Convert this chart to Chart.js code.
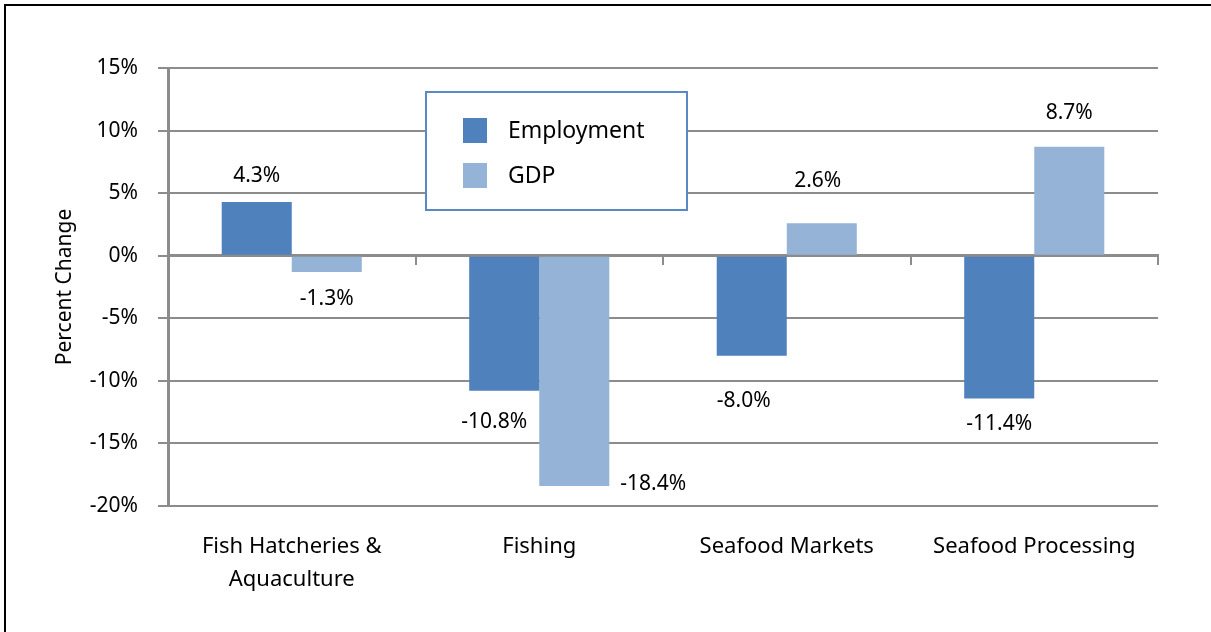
<!DOCTYPE html>
<html>
<head>
<meta charset="utf-8">
<script src="https://cdn.jsdelivr.net/npm/chart.js@4.4.1/dist/chart.umd.min.js"></script>
<style>
  html, body { margin: 0; padding: 0; background: #fff; overflow: hidden; }
  #wrap { position: relative; width: 1211px; height: 632px; }
  #frame { position: absolute; left: 4px; top: 4px; width: 1300px; height: 700px; border: 2px solid #000; box-sizing: border-box; pointer-events: none; }
  canvas { position: absolute; left: 0; top: 0; }
</style>
</head>
<body>
<div id="wrap">
  <canvas id="chart" width="1211" height="632"></canvas>
  <div id="frame"></div>
</div>
<script>
const categories = [['Fish Hatcheries &', 'Aquaculture'], 'Fishing', 'Seafood Markets', 'Seafood Processing'];
const employment = [4.3, -10.8, -8.0, -11.4];
const gdp = [-1.3, -18.4, 2.6, 8.7];
const yTicks = [-20, -15, -10, -5, 0, 5, 10, 15];

// label nudges [dx, dy] from the bar end, per dataset
const labelOffsets = [
  [[0, -26], [-10, 31], [-8, 45], [0, 26]],
  [[0, 27], [79, -2], [-4, -42], [0, -34]]
];

const FONT = '"Noto Sans", "Open Sans", sans-serif';
const GRID = '#8c8c8c';

const valueLabels = {
  id: 'valueLabels',
  afterDatasetsDraw(chart) {
    const ctx = chart.ctx;
    ctx.save();
    ctx.font = `21px ${FONT}`;
    ctx.fillStyle = '#000';
    ctx.textAlign = 'center';
    ctx.textBaseline = 'middle';
    chart.data.datasets.forEach((ds, di) => {
      chart.getDatasetMeta(di).data.forEach((bar, i) => {
        const [dx, dy] = labelOffsets[di][i];
        ctx.fillText(ds.data[i].toFixed(1) + '%', bar.x + dx, bar.y + dy);
      });
    });
    ctx.restore();
  }
};

const boxLegend = {
  id: 'boxLegend',
  afterDraw(chart) {
    const ctx = chart.ctx;
    const a = chart.chartArea;
    const x = a.left + 258, y = a.top + 24, w = 261, h = 118;
    ctx.save();
    ctx.fillStyle = '#fff';
    ctx.fillRect(x, y, w, h);
    ctx.strokeStyle = '#5a8ac6';
    ctx.lineWidth = 2;
    ctx.strokeRect(x, y, w, h);
    ctx.font = `23px ${FONT}`;
    ctx.textBaseline = 'middle';
    chart.data.datasets.forEach((ds, i) => {
      const ry = y + 26 + i * 45;
      ctx.fillStyle = ds.backgroundColor;
      ctx.fillRect(x + 37, ry, 24, 25);
      ctx.fillStyle = '#000';
      ctx.fillText(ds.label, x + 82, ry + 13);
    });
    ctx.restore();
  }
};

new Chart(document.getElementById('chart'), {
  type: 'bar',
  data: {
    labels: categories,
    datasets: [
      { label: 'Employment', data: employment, backgroundColor: '#4f81bd' },
      { label: 'GDP', data: gdp, backgroundColor: '#95b3d7' }
    ]
  },
  options: {
    responsive: false,
    animation: false,
    events: [],
    layout: { padding: { left: 0, top: 68, right: 53, bottom: 0 } },
    datasets: { bar: { categoryPercentage: 0.566, barPercentage: 1 } },
    plugins: { legend: { display: false }, tooltip: { enabled: false } },
    scales: {
      x: {
        type: 'category',
        position: { y: 0 },
        offset: true,
        grid: { display: true, offset: true, drawOnChartArea: false, drawTicks: true, tickLength: 8, color: GRID, lineWidth: 2 },
        border: { display: true, color: GRID, width: 3 },
        ticks: { display: false }
      },
      x2: {
        type: 'category',
        position: 'bottom',
        offset: true,
        grid: { display: false, drawTicks: false },
        border: { display: false },
        ticks: { color: '#000', padding: 24, font: { family: FONT, size: 22, lineHeight: 1.5 }, maxRotation: 0, autoSkip: false },
        afterFit: s => { s.height = 126; }
      },
      y: {
        min: -20,
        max: 15,
        afterBuildTicks: s => { s.ticks = yTicks.map(v => ({ value: v })); },
        grid: { color: GRID, lineWidth: 2, tickLength: 10 },
        border: { color: GRID, width: 3 },
        ticks: { color: '#000', padding: 20, font: { family: FONT, size: 21 }, callback: v => v + '%' },
        title: { display: true, text: 'Percent Change', color: '#000', padding: { top: 52, bottom: 0 }, font: { family: FONT, size: 21 } },
        afterFit: s => { s.width = 168; }
      }
    }
  },
  plugins: [valueLabels, boxLegend]
});
</script>
</body>
</html>
